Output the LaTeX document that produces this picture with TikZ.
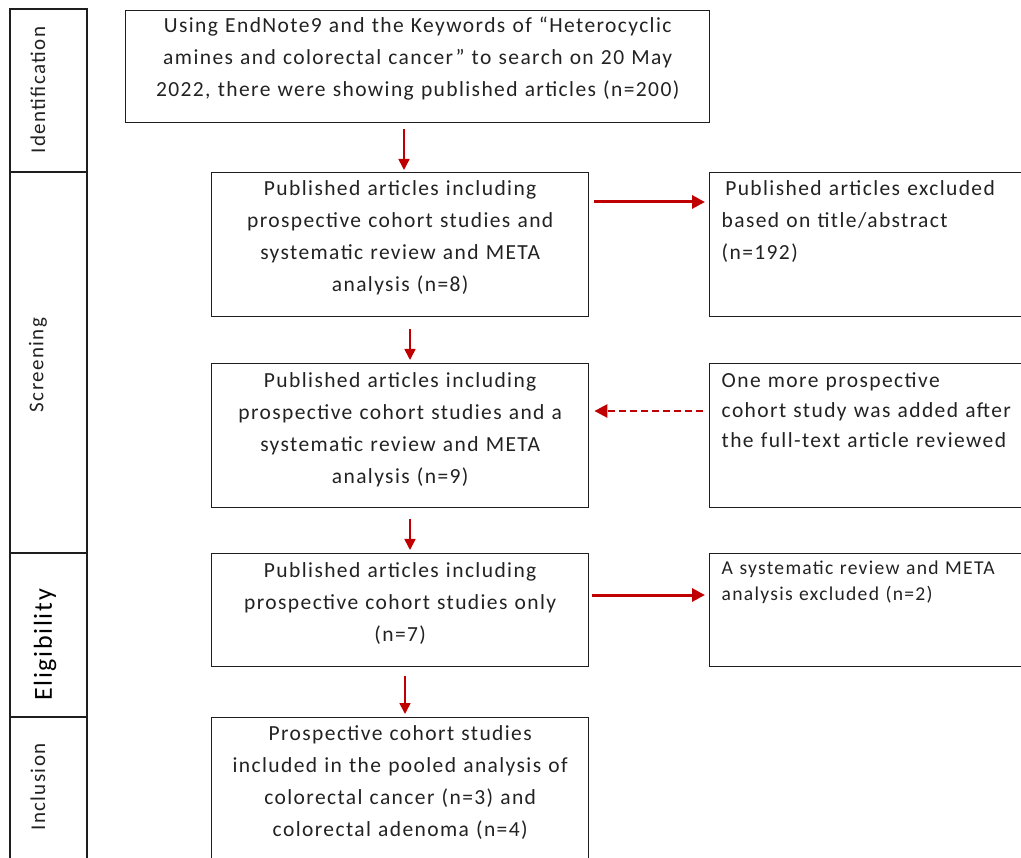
\documentclass[tikz,border=0pt]{standalone}
\usepackage{fontspec}
\setmainfont[LetterSpace=6.5]{Carlito}
\usetikzlibrary{arrows.meta, positioning, calc}
\definecolor{cline}{HTML}{1E1E1E}
\definecolor{ctext}{HTML}{222222}
\definecolor{cred}{HTML}{C00000}
\tikzset{
  every picture/.style={line width=1.4pt},
  box/.style={draw=cline, anchor=north west, inner xsep=6pt, inner ysep=0pt, text=ctext,
    font=\fontsize{21.5}{32}\selectfont, text width=#1, align=center},
  sidebox/.style={box=#1, align=left, inner xsep=12pt},
  stagelbl/.style={rotate=90, text=ctext, font=\fontsize{21}{24}\selectfont},
  arrow/.style={-{Triangle[length=11pt, width=11pt]}, draw=cred, line width=1.6pt},
  bigarrow/.style={-{Triangle[length=13pt, width=13pt]}, draw=cred, line width=3pt},
}

\begin{document}
\begin{tikzpicture}[x=1pt, y=-1pt]
  \useasboundingbox (0,0) rectangle (1021,858);
  \clip (0,0) rectangle (1021,858);
  % stage column on the left
  \draw[cline] (10,900) -- (10,9) -- (87,9) -- (87,900);
  \foreach \yy in {172,553,717} \draw[cline] (10,\yy) -- (87,\yy);
  \node[stagelbl] (ident) at (38,90) {Identification};
  \node[stagelbl] (screen) at (38,365) {Screening};
  \node[stagelbl, text=black, font=\fontsize{26}{28}\selectfont] (elig) at (45,645) {Eligibility};
  \node[stagelbl] (incl) at (38,787) {Inclusion};

  % main column
  \node[box=572pt, text height=22pt, text depth=90pt] (search) at (125,10)
    {Using EndNote9 and the Keywords of “Heterocyclic\\ amines and colorectal cancer” to search on 20 May\\ 2022, there were showing published articles (n=200)};
  \node[box=365pt, text height=23pt, text depth=121pt] (pub8) at (211,172)
    {Published articles including\\ prospective cohort studies and\\ systematic review and META\\ analysis (n=8)};
  \node[box=365pt, text height=24pt, text depth=120pt] (pub9) at (211,363)
    {Published articles including\\ prospective cohort studies and a\\ systematic review and META\\ analysis (n=9)};
  \node[box=365pt, text height=24pt, text depth=89pt] (pub7) at (211,553)
    {Published articles including\\ prospective cohort studies only\\ (n=7)};
  \node[box=365pt, text height=23pt, text depth=140pt] (pooled) at (211,717)
    {Prospective cohort studies\\ included in the pooled analysis of\\ colorectal cancer (n=3) and\\ colorectal adenoma (n=4)};

  % side column
  \node[sidebox=320pt, text height=23pt, text depth=121pt] (excl) at (709,172)
    {\,Published articles excluded\\ based on title/abstract\\ (n=192)};
  \node[sidebox=320pt, text height=24pt, text depth=120pt, font=\fontsize{21.5}{30}\selectfont] (more) at (709,363)
    {One more prospective\\ cohort study was added after\\ the full-text article reviewed};
  \node[sidebox=320pt, text height=21pt, text depth=92pt, font=\fontsize{19.6}{26}\selectfont] (meta) at (709,553)
    {A systematic review and META\\ analysis excluded (n=2)};

  \draw[arrow] ($(search.south west)+(279,6)$) -- ($(pub8.north west)+(193,-2)$);
  \draw[arrow] ($(pub8.south west)+(199,12)$) -- ($(pub9.north west)+(199,-3)$);
  \draw[arrow] ($(pub9.south west)+(199,11)$) -- ($(pub7.north west)+(199,-3)$);
  \draw[arrow] ($(pub7.south west)+(194,9)$) -- ($(pooled.north west)+(194,-3)$);
  \draw[bigarrow] ($(pub8.north east)+(5,30)$) -- ($(excl.north west)+(-4,30)$);
  \draw[bigarrow, line width=2.6pt, dash pattern=on 7pt off 4pt] ($(more.north west)+(-6,48)$) -- ($(pub9.north east)+(5,48)$);
  \draw[bigarrow] ($(pub7.north east)+(3,42)$) -- ($(meta.north west)+(-4,42)$);
\end{tikzpicture}
\end{document}
